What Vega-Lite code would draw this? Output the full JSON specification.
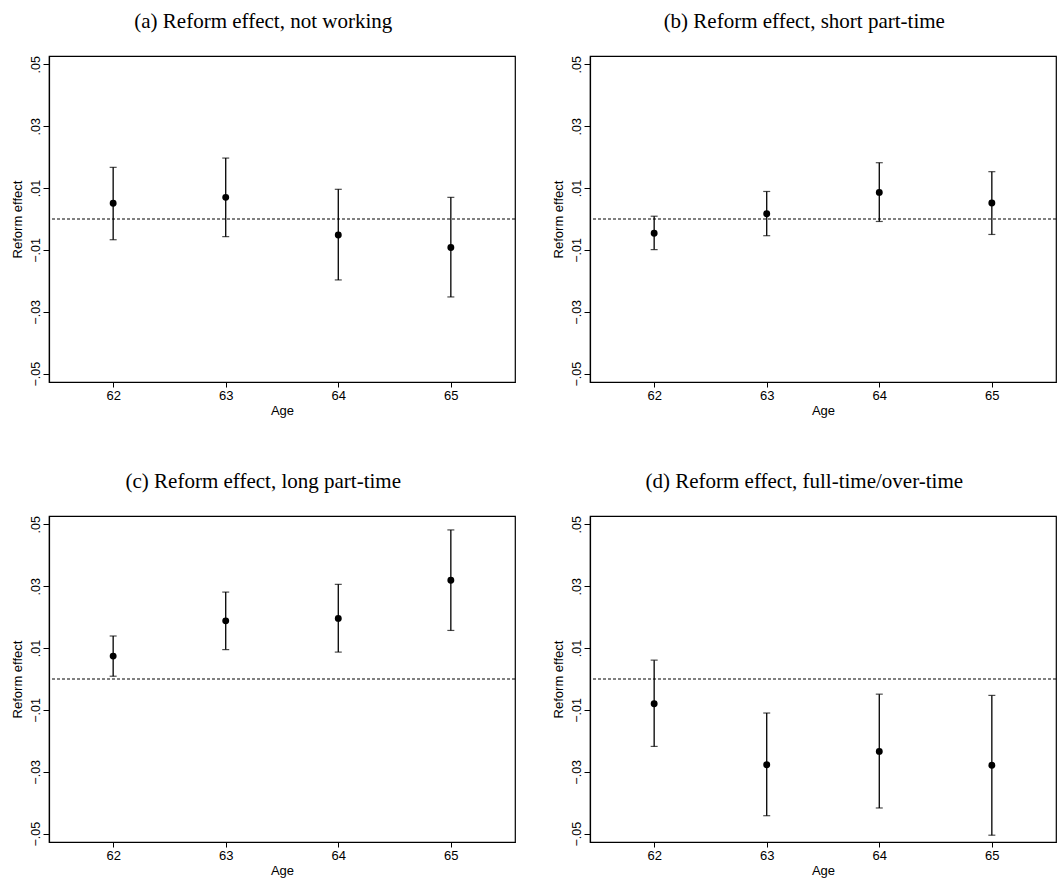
{
  "$schema": "https://vega.github.io/schema/vega-lite/v6.json",
  "background": "white",
  "padding": {"left": 10, "top": 10, "right": 0, "bottom": 0},
  "spacing": {"row": 52, "column": 34},
  "columns": 2,
  "config": {
    "view": {"stroke": "black", "strokeWidth": 1.2},
    "axis": {
      "grid": false,
      "domainColor": "black",
      "domainWidth": 1.2,
      "tickColor": "black",
      "tickWidth": 1,
      "labelColor": "black",
      "titleColor": "black",
      "labelFont": "Liberation Sans",
      "titleFont": "Liberation Sans",
      "titleFontWeight": "normal",
      "titleFontSize": 13
    },
    "axisX": {"labelFontSize": 13, "tickSize": 5, "labelPadding": 2, "titlePadding": 2, "format": "d"},
    "axisY": {"labelFontSize": 12.5, "tickSize": 6, "labelPadding": 4, "titlePadding": 5, "labelAngle": -90, "labelAlign": "center", "labelBaseline": "alphabetic"},
    "title": {"font": "Liberation Serif", "fontSize": 21, "fontWeight": "normal", "color": "black", "anchor": "middle", "frame": "bounds", "offset": 24}
  },
  "datasets": {
    "est": [
      {"panel": "a", "age": 62, "est": 0.0051, "lo": -0.0067, "hi": 0.0167},
      {"panel": "a", "age": 63, "est": 0.0070, "lo": -0.0057, "hi": 0.0197},
      {"panel": "a", "age": 64, "est": -0.0052, "lo": -0.0197, "hi": 0.0096},
      {"panel": "a", "age": 65, "est": -0.0092, "lo": -0.0252, "hi": 0.0070},
      {"panel": "b", "age": 62, "est": -0.0046, "lo": -0.0099, "hi": 0.0009},
      {"panel": "b", "age": 63, "est": 0.0017, "lo": -0.0054, "hi": 0.0089},
      {"panel": "b", "age": 64, "est": 0.0086, "lo": -0.0008, "hi": 0.0182},
      {"panel": "b", "age": 65, "est": 0.0052, "lo": -0.0050, "hi": 0.0153},
      {"panel": "c", "age": 62, "est": 0.0074, "lo": 0.0009, "hi": 0.0139},
      {"panel": "c", "age": 63, "est": 0.0188, "lo": 0.0095, "hi": 0.0281},
      {"panel": "c", "age": 64, "est": 0.0196, "lo": 0.0087, "hi": 0.0306},
      {"panel": "c", "age": 65, "est": 0.0319, "lo": 0.0157, "hi": 0.0482},
      {"panel": "d", "age": 62, "est": -0.0080, "lo": -0.0218, "hi": 0.0061},
      {"panel": "d", "age": 63, "est": -0.0277, "lo": -0.0442, "hi": -0.0110},
      {"panel": "d", "age": 64, "est": -0.0234, "lo": -0.0417, "hi": -0.0049},
      {"panel": "d", "age": 65, "est": -0.0279, "lo": -0.0505, "hi": -0.0053}
    ],
    "ref": [{"zero": 0}]
  },
  "concat": [
    {
      "width": 466, "height": 326,
      "title": {"text": "(a) Reform effect, not working"},
      "layer": [
        {"data": {"name": "ref"}, "mark": {"type": "rule", "strokeDash": [3, 2], "strokeWidth": 1, "color": "black"},
         "encoding": {"y": {"field": "zero", "type": "quantitative", "scale": {"domain": [-0.0527, 0.0527], "nice": false, "zero": false}, "axis": {"title": "Reform effect", "values": [-0.05, -0.03, -0.01, 0.01, 0.03, 0.05], "labelExpr": "datum.value < 0 ? '−' + replace(format(-datum.value, '.2f'), '0.', '.') : replace(format(datum.value, '.2f'), '0.', '.')"}}}},
        {"data": {"name": "est"}, "transform": [{"filter": "datum.panel === 'a'"}],
         "mark": {"type": "errorbar", "color": "black", "ticks": {"size": 7, "thickness": 1.2, "color": "black"}, "rule": {"strokeWidth": 1.3, "color": "black"}},
         "encoding": {"x": {"field": "age", "type": "quantitative", "scale": {"domain": [61.43, 65.57], "nice": false, "zero": false}, "axis": {"title": "Age", "values": [62, 63, 64, 65], "format": "d"}},
                      "y": {"field": "lo", "type": "quantitative", "scale": {"domain": [-0.0527, 0.0527], "nice": false, "zero": false}, "title": "Reform effect"},
                      "y2": {"field": "hi"}}},
        {"data": {"name": "est"}, "transform": [{"filter": "datum.panel === 'a'"}],
         "mark": {"type": "point", "filled": true, "shape": "circle", "size": 48, "color": "black", "opacity": 1},
         "encoding": {"x": {"field": "age", "type": "quantitative", "title": "Age"},
                      "y": {"field": "est", "type": "quantitative", "title": "Reform effect"}}}
      ]
    },
    {
      "width": 466, "height": 326,
      "title": {"text": "(b) Reform effect, short part-time"},
      "layer": [
        {"data": {"name": "ref"}, "mark": {"type": "rule", "strokeDash": [3, 2], "strokeWidth": 1, "color": "black"},
         "encoding": {"y": {"field": "zero", "type": "quantitative", "scale": {"domain": [-0.0527, 0.0527], "nice": false, "zero": false}, "axis": {"title": "Reform effect", "values": [-0.05, -0.03, -0.01, 0.01, 0.03, 0.05], "labelExpr": "datum.value < 0 ? '−' + replace(format(-datum.value, '.2f'), '0.', '.') : replace(format(datum.value, '.2f'), '0.', '.')"}}}},
        {"data": {"name": "est"}, "transform": [{"filter": "datum.panel === 'b'"}],
         "mark": {"type": "errorbar", "color": "black", "ticks": {"size": 7, "thickness": 1.2, "color": "black"}, "rule": {"strokeWidth": 1.3, "color": "black"}},
         "encoding": {"x": {"field": "age", "type": "quantitative", "scale": {"domain": [61.43, 65.57], "nice": false, "zero": false}, "axis": {"title": "Age", "values": [62, 63, 64, 65], "format": "d"}},
                      "y": {"field": "lo", "type": "quantitative", "scale": {"domain": [-0.0527, 0.0527], "nice": false, "zero": false}, "title": "Reform effect"},
                      "y2": {"field": "hi"}}},
        {"data": {"name": "est"}, "transform": [{"filter": "datum.panel === 'b'"}],
         "mark": {"type": "point", "filled": true, "shape": "circle", "size": 48, "color": "black", "opacity": 1},
         "encoding": {"x": {"field": "age", "type": "quantitative", "title": "Age"},
                      "y": {"field": "est", "type": "quantitative", "title": "Reform effect"}}}
      ]
    },
    {
      "width": 466, "height": 326,
      "title": {"text": "(c) Reform effect, long part-time"},
      "layer": [
        {"data": {"name": "ref"}, "mark": {"type": "rule", "strokeDash": [3, 2], "strokeWidth": 1, "color": "black"},
         "encoding": {"y": {"field": "zero", "type": "quantitative", "scale": {"domain": [-0.0527, 0.0527], "nice": false, "zero": false}, "axis": {"title": "Reform effect", "values": [-0.05, -0.03, -0.01, 0.01, 0.03, 0.05], "labelExpr": "datum.value < 0 ? '−' + replace(format(-datum.value, '.2f'), '0.', '.') : replace(format(datum.value, '.2f'), '0.', '.')"}}}},
        {"data": {"name": "est"}, "transform": [{"filter": "datum.panel === 'c'"}],
         "mark": {"type": "errorbar", "color": "black", "ticks": {"size": 7, "thickness": 1.2, "color": "black"}, "rule": {"strokeWidth": 1.3, "color": "black"}},
         "encoding": {"x": {"field": "age", "type": "quantitative", "scale": {"domain": [61.43, 65.57], "nice": false, "zero": false}, "axis": {"title": "Age", "values": [62, 63, 64, 65], "format": "d"}},
                      "y": {"field": "lo", "type": "quantitative", "scale": {"domain": [-0.0527, 0.0527], "nice": false, "zero": false}, "title": "Reform effect"},
                      "y2": {"field": "hi"}}},
        {"data": {"name": "est"}, "transform": [{"filter": "datum.panel === 'c'"}],
         "mark": {"type": "point", "filled": true, "shape": "circle", "size": 48, "color": "black", "opacity": 1},
         "encoding": {"x": {"field": "age", "type": "quantitative", "title": "Age"},
                      "y": {"field": "est", "type": "quantitative", "title": "Reform effect"}}}
      ]
    },
    {
      "width": 466, "height": 326,
      "title": {"text": "(d) Reform effect, full-time/over-time"},
      "layer": [
        {"data": {"name": "ref"}, "mark": {"type": "rule", "strokeDash": [3, 2], "strokeWidth": 1, "color": "black"},
         "encoding": {"y": {"field": "zero", "type": "quantitative", "scale": {"domain": [-0.0527, 0.0527], "nice": false, "zero": false}, "axis": {"title": "Reform effect", "values": [-0.05, -0.03, -0.01, 0.01, 0.03, 0.05], "labelExpr": "datum.value < 0 ? '−' + replace(format(-datum.value, '.2f'), '0.', '.') : replace(format(datum.value, '.2f'), '0.', '.')"}}}},
        {"data": {"name": "est"}, "transform": [{"filter": "datum.panel === 'd'"}],
         "mark": {"type": "errorbar", "color": "black", "ticks": {"size": 7, "thickness": 1.2, "color": "black"}, "rule": {"strokeWidth": 1.3, "color": "black"}},
         "encoding": {"x": {"field": "age", "type": "quantitative", "scale": {"domain": [61.43, 65.57], "nice": false, "zero": false}, "axis": {"title": "Age", "values": [62, 63, 64, 65], "format": "d"}},
                      "y": {"field": "lo", "type": "quantitative", "scale": {"domain": [-0.0527, 0.0527], "nice": false, "zero": false}, "title": "Reform effect"},
                      "y2": {"field": "hi"}}},
        {"data": {"name": "est"}, "transform": [{"filter": "datum.panel === 'd'"}],
         "mark": {"type": "point", "filled": true, "shape": "circle", "size": 48, "color": "black", "opacity": 1},
         "encoding": {"x": {"field": "age", "type": "quantitative", "title": "Age"},
                      "y": {"field": "est", "type": "quantitative", "title": "Reform effect"}}}
      ]
    }
  ]
}
